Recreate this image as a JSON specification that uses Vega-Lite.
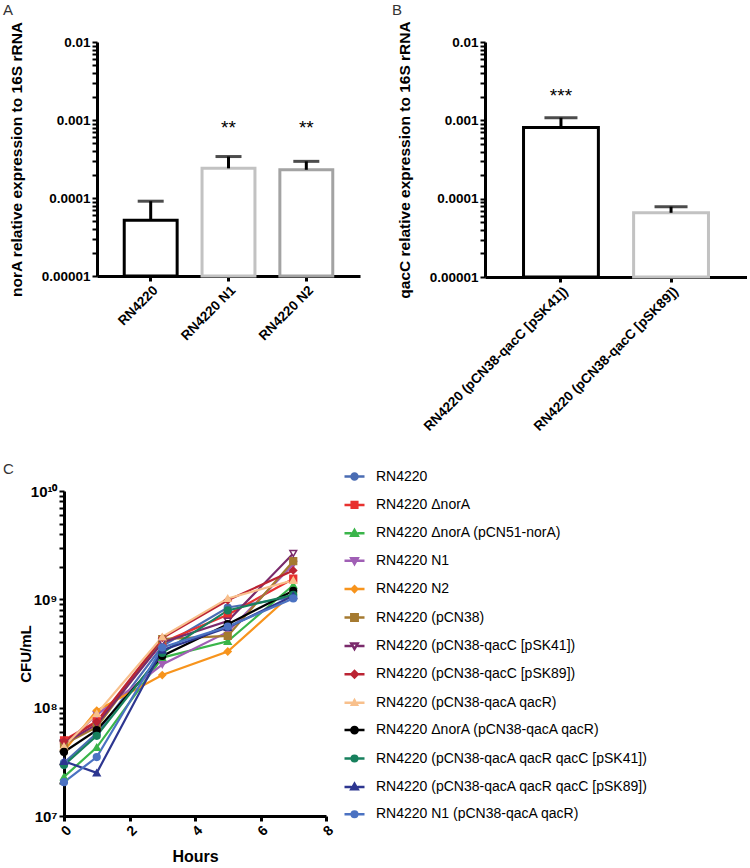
{
  "$schema": "https://vega.github.io/schema/vega-lite/v6.json",
  "padding": {"left": 3, "top": 2, "right": 0, "bottom": 0},
  "config": {
    "font": "Liberation Sans",
    "view": {"stroke": null},
    "axis": {"grid": false, "domainColor": "#000", "domainWidth": 3, "tickColor": "#000", "tickWidth": 2, "tickSize": 5, "labelColor": "#000", "labelFontWeight": "bold", "labelFont": "Liberation Sans", "titleFont": "Liberation Sans", "titleColor": "#000", "titleFontWeight": "bold", "labelPadding": 2},
    "title": {"font": "Liberation Sans", "fontWeight": "normal", "fontSize": 15, "color": "#333", "anchor": "start", "frame": "group"}
  },
  "columns": 1,
  "align": "none",
  "spacing": 28,
  "concat": [
    {
      "spacing": 32,
      "hconcat": [
        {
          "width": 263, "height": 234,
          "title": {"text": "A", "dx": -94, "offset": 3},
          "data": {"values": [
            {"strain": "RN4220", "value": 0.000052, "err": 0.000091, "sig": ""},
            {"strain": "RN4220 N1", "value": 0.00024, "err": 0.00034, "sig": "**"},
            {"strain": "RN4220 N2", "value": 0.00023, "err": 0.000295, "sig": "**"}
          ]},
          "layer": [
            {
              "mark": {"type": "bar", "fill": "white", "strokeWidth": 3},
              "encoding": {
                "x": {"field": "strain", "type": "nominal", "sort": null, "scale": {"paddingInner": 0.32, "paddingOuter": 0.35},
                      "axis": {"title": null, "labelAngle": -45, "labelFontSize": 13.5, "tickWidth": 3, "tickSize": 5}},
                "y": {"field": "value", "type": "quantitative", "scale": {"type": "log", "domain": [0.00001, 0.01]},
                      "axis": {"values": [0.00001,0.00002,0.00003,0.00004,0.00005,0.00006,0.00007,0.00008,0.00009,0.0001,0.0002,0.0003,0.0004,0.0005,0.0006,0.0007,0.0008,0.0009,0.001,0.002,0.003,0.004,0.005,0.006,0.007,0.008,0.009,0.01],
                               "labelExpr": "abs(log(datum.value)/LN10 - round(log(datum.value)/LN10)) < 0.001 ? format(datum.value, '~f') : ''",
                               "labelFontSize": 13.5, "title": "norA relative expression to 16S rRNA", "titleFontSize": 15.5, "titlePadding": 17}},
                "y2": {"datum": 0.00001},
                "stroke": {"field": "strain", "type": "nominal", "scale": {"domain": ["RN4220", "RN4220 N1", "RN4220 N2"], "range": ["#000000", "#c2c2c2", "#a3a3a3"]}, "legend": null}
              }
            },
            {
              "mark": {"type": "rule", "strokeWidth": 3, "color": "#000"},
              "encoding": {
                "x": {"field": "strain", "type": "nominal", "sort": null},
                "y": {"field": "value", "type": "quantitative"},
                "y2": {"field": "err"}
              }
            },
            {
              "mark": {"type": "tick", "thickness": 3, "size": 26, "color": "#000"},
              "encoding": {
                "x": {"field": "strain", "type": "nominal", "sort": null},
                "y": {"field": "err", "type": "quantitative"}
              }
            },
            {
              "mark": {"type": "text", "fontSize": 19, "baseline": "middle", "color": "#000"},
              "encoding": {
                "x": {"field": "strain", "type": "nominal", "sort": null},
                "y": {"datum": 0.0008},
                "text": {"field": "sig"}
              }
            }
          ]
        },
        {
          "width": 262, "height": 235,
          "title": {"text": "B", "dx": -93, "offset": 3},
          "data": {"values": [
            {"strain": "RN4220 (pCN38-qacC [pSK41])", "value": 0.00081, "err": 0.00108, "sig": "***"},
            {"strain": "RN4220 (pCN38-qacC [pSK89])", "value": 0.000066, "err": 0.000079, "sig": ""}
          ]},
          "layer": [
            {
              "mark": {"type": "bar", "fill": "white", "strokeWidth": 3},
              "encoding": {
                "x": {"field": "strain", "type": "nominal", "sort": null, "scale": {"paddingInner": 0.32, "paddingOuter": 0.35},
                      "axis": {"title": null, "labelAngle": -45, "labelFontSize": 13.5, "tickWidth": 3, "tickSize": 5, "labelLimit": 0}},
                "y": {"field": "value", "type": "quantitative", "scale": {"type": "log", "domain": [0.00001, 0.01]},
                      "axis": {"values": [0.00001,0.00002,0.00003,0.00004,0.00005,0.00006,0.00007,0.00008,0.00009,0.0001,0.0002,0.0003,0.0004,0.0005,0.0006,0.0007,0.0008,0.0009,0.001,0.002,0.003,0.004,0.005,0.006,0.007,0.008,0.009,0.01],
                               "labelExpr": "abs(log(datum.value)/LN10 - round(log(datum.value)/LN10)) < 0.001 ? format(datum.value, '~f') : ''",
                               "labelFontSize": 13.5, "title": "qacC relative expression to 16S rRNA", "titleFontSize": 15.5, "titlePadding": 17}},
                "y2": {"datum": 0.00001},
                "stroke": {"field": "strain", "type": "nominal", "scale": {"domain": ["RN4220 (pCN38-qacC [pSK41])", "RN4220 (pCN38-qacC [pSK89])"], "range": ["#000000", "#c2c2c2"]}, "legend": null}
              }
            },
            {
              "mark": {"type": "rule", "strokeWidth": 3, "color": "#000"},
              "encoding": {
                "x": {"field": "strain", "type": "nominal", "sort": null},
                "y": {"field": "value", "type": "quantitative"},
                "y2": {"field": "err"}
              }
            },
            {
              "mark": {"type": "tick", "thickness": 3, "size": 33, "color": "#000"},
              "encoding": {
                "x": {"field": "strain", "type": "nominal", "sort": null},
                "y": {"field": "err", "type": "quantitative"}
              }
            },
            {
              "mark": {"type": "text", "fontSize": 19, "baseline": "middle", "color": "#000"},
              "encoding": {
                "x": {"field": "strain", "type": "nominal", "sort": null},
                "y": {"datum": 0.00205},
                "text": {"field": "sig"}
              }
            }
          ]
        }
      ]
    },
    {
      "hconcat": [
        {
          "width": 229, "height": 325,
          "title": {"text": "C", "dx": -94, "offset": -12},
          "data": {"values": [
            {"strain": "RN4220", "hours": 0, "cfu": 31000000}, {"strain": "RN4220", "hours": 1, "cfu": 58000000}, {"strain": "RN4220", "hours": 3, "cfu": 370000000}, {"strain": "RN4220", "hours": 5, "cfu": 840000000}, {"strain": "RN4220", "hours": 7, "cfu": 1050000000},
            {"strain": "RN4220 ΔnorA", "hours": 0, "cfu": 50000000}, {"strain": "RN4220 ΔnorA", "hours": 1, "cfu": 75000000}, {"strain": "RN4220 ΔnorA", "hours": 3, "cfu": 400000000}, {"strain": "RN4220 ΔnorA", "hours": 5, "cfu": 720000000}, {"strain": "RN4220 ΔnorA", "hours": 7, "cfu": 1550000000},
            {"strain": "RN4220 ΔnorA (pCN51-norA)", "hours": 0, "cfu": 23000000}, {"strain": "RN4220 ΔnorA (pCN51-norA)", "hours": 1, "cfu": 43000000}, {"strain": "RN4220 ΔnorA (pCN51-norA)", "hours": 3, "cfu": 290000000}, {"strain": "RN4220 ΔnorA (pCN51-norA)", "hours": 5, "cfu": 410000000}, {"strain": "RN4220 ΔnorA (pCN51-norA)", "hours": 7, "cfu": 1350000000},
            {"strain": "RN4220 N1", "hours": 0, "cfu": 45000000}, {"strain": "RN4220 N1", "hours": 1, "cfu": 86000000}, {"strain": "RN4220 N1", "hours": 3, "cfu": 250000000}, {"strain": "RN4220 N1", "hours": 5, "cfu": 500000000}, {"strain": "RN4220 N1", "hours": 7, "cfu": 2100000000},
            {"strain": "RN4220 N2", "hours": 0, "cfu": 40000000}, {"strain": "RN4220 N2", "hours": 1, "cfu": 94000000}, {"strain": "RN4220 N2", "hours": 3, "cfu": 200000000}, {"strain": "RN4220 N2", "hours": 5, "cfu": 330000000}, {"strain": "RN4220 N2", "hours": 7, "cfu": 1150000000},
            {"strain": "RN4220 (pCN38)", "hours": 0, "cfu": 46000000}, {"strain": "RN4220 (pCN38)", "hours": 1, "cfu": 66000000}, {"strain": "RN4220 (pCN38)", "hours": 3, "cfu": 430000000}, {"strain": "RN4220 (pCN38)", "hours": 5, "cfu": 460000000}, {"strain": "RN4220 (pCN38)", "hours": 7, "cfu": 2250000000},
            {"strain": "RN4220 (pCN38-qacC [pSK41])", "hours": 0, "cfu": 47000000}, {"strain": "RN4220 (pCN38-qacC [pSK41])", "hours": 1, "cfu": 70000000}, {"strain": "RN4220 (pCN38-qacC [pSK41])", "hours": 3, "cfu": 400000000}, {"strain": "RN4220 (pCN38-qacC [pSK41])", "hours": 5, "cfu": 630000000}, {"strain": "RN4220 (pCN38-qacC [pSK41])", "hours": 7, "cfu": 2650000000},
            {"strain": "RN4220 (pCN38-qacC [pSK89])", "hours": 0, "cfu": 49000000}, {"strain": "RN4220 (pCN38-qacC [pSK89])", "hours": 1, "cfu": 74000000}, {"strain": "RN4220 (pCN38-qacC [pSK89])", "hours": 3, "cfu": 440000000}, {"strain": "RN4220 (pCN38-qacC [pSK89])", "hours": 5, "cfu": 980000000}, {"strain": "RN4220 (pCN38-qacC [pSK89])", "hours": 7, "cfu": 1850000000},
            {"strain": "RN4220 (pCN38-qacA qacR)", "hours": 0, "cfu": 44000000}, {"strain": "RN4220 (pCN38-qacA qacR)", "hours": 1, "cfu": 88000000}, {"strain": "RN4220 (pCN38-qacA qacR)", "hours": 3, "cfu": 450000000}, {"strain": "RN4220 (pCN38-qacA qacR)", "hours": 5, "cfu": 1020000000}, {"strain": "RN4220 (pCN38-qacA qacR)", "hours": 7, "cfu": 1500000000},
            {"strain": "RN4220 ΔnorA (pCN38-qacA qacR)", "hours": 0, "cfu": 39000000}, {"strain": "RN4220 ΔnorA (pCN38-qacA qacR)", "hours": 1, "cfu": 62000000}, {"strain": "RN4220 ΔnorA (pCN38-qacA qacR)", "hours": 3, "cfu": 300000000}, {"strain": "RN4220 ΔnorA (pCN38-qacA qacR)", "hours": 5, "cfu": 590000000}, {"strain": "RN4220 ΔnorA (pCN38-qacA qacR)", "hours": 7, "cfu": 1200000000},
            {"strain": "RN4220 (pCN38-qacA qacR qacC [pSK41])", "hours": 0, "cfu": 29500000}, {"strain": "RN4220 (pCN38-qacA qacR qacC [pSK41])", "hours": 1, "cfu": 55000000}, {"strain": "RN4220 (pCN38-qacA qacR qacC [pSK41])", "hours": 3, "cfu": 320000000}, {"strain": "RN4220 (pCN38-qacA qacR qacC [pSK41])", "hours": 5, "cfu": 790000000}, {"strain": "RN4220 (pCN38-qacA qacR qacC [pSK41])", "hours": 7, "cfu": 1100000000},
            {"strain": "RN4220 (pCN38-qacA qacR qacC [pSK89])", "hours": 0, "cfu": 32000000}, {"strain": "RN4220 (pCN38-qacA qacR qacC [pSK89])", "hours": 1, "cfu": 25000000}, {"strain": "RN4220 (pCN38-qacA qacR qacC [pSK89])", "hours": 3, "cfu": 340000000}, {"strain": "RN4220 (pCN38-qacA qacR qacC [pSK89])", "hours": 5, "cfu": 550000000}, {"strain": "RN4220 (pCN38-qacA qacR qacC [pSK89])", "hours": 7, "cfu": 1080000000},
            {"strain": "RN4220 N1 (pCN38-qacA qacR)", "hours": 0, "cfu": 20500000}, {"strain": "RN4220 N1 (pCN38-qacA qacR)", "hours": 1, "cfu": 35000000}, {"strain": "RN4220 N1 (pCN38-qacA qacR)", "hours": 3, "cfu": 360000000}, {"strain": "RN4220 N1 (pCN38-qacA qacR)", "hours": 5, "cfu": 560000000}, {"strain": "RN4220 N1 (pCN38-qacA qacR)", "hours": 7, "cfu": 1020000000}
          ]},
          "resolve": {"scale": {"shape": "independent", "fill": "independent", "stroke": "independent"}},
          "layer": [
            {
              "mark": {"type": "line", "strokeWidth": 2.2},
              "encoding": {
                "x": {"field": "hours", "type": "quantitative", "scale": {"domain": [0, 8], "nice": false, "range": [-33, 229]},
                      "axis": {"values": [0, 2, 4, 6, 8], "labelAngle": -45, "labelFontSize": 14, "title": "Hours", "titleFontSize": 16, "titlePadding": 10, "tickWidth": 3, "tickSize": 5}},
                "y": {"field": "cfu", "type": "quantitative", "scale": {"type": "log", "domain": [10000000, 10000000000]},
                      "axis": {"offset": 33, "values": [10000000,20000000,30000000,40000000,50000000,60000000,70000000,80000000,90000000,100000000,200000000,300000000,400000000,500000000,600000000,700000000,800000000,900000000,1000000000,2000000000,3000000000,4000000000,5000000000,6000000000,7000000000,8000000000,9000000000,10000000000],
                               "labelExpr": "datum.value == 10000000 ? '10⁷' : datum.value == 100000000 ? '10⁸' : datum.value == 1000000000 ? '10⁹' : datum.value == 10000000000 ? '10¹⁰' : ''",
                               "labelFontSize": 15, "title": "CFU/mL", "titleFontSize": 15, "titlePadding": -3}},
                "color": {"field": "strain", "type": "nominal", "sort": null, "legend": null,
                          "scale": {"domain": ["RN4220", "RN4220 ΔnorA", "RN4220 ΔnorA (pCN51-norA)", "RN4220 N1", "RN4220 N2", "RN4220 (pCN38)", "RN4220 (pCN38-qacC [pSK41])", "RN4220 (pCN38-qacC [pSK89])", "RN4220 (pCN38-qacA qacR)", "RN4220 ΔnorA (pCN38-qacA qacR)", "RN4220 (pCN38-qacA qacR qacC [pSK41])", "RN4220 (pCN38-qacA qacR qacC [pSK89])", "RN4220 N1 (pCN38-qacA qacR)"],
                                    "range": ["#4a6cb3", "#e8312f", "#3ab54a", "#a05fb5", "#f7941d", "#a57a30", "#7a2a6b", "#bb2433", "#f8c08c", "#000000", "#17805d", "#2d3690", "#4b72c2"]}}
              }
            },
            {
              "mark": {"type": "point", "filled": true, "size": 45, "strokeWidth": 1.5, "opacity": 1},
              "encoding": {
                "x": {"field": "hours", "type": "quantitative"},
                "y": {"field": "cfu", "type": "quantitative"},
                "fill": {"field": "strain", "type": "nominal", "legend": null,
                         "scale": {"domain": ["RN4220", "RN4220 ΔnorA", "RN4220 ΔnorA (pCN51-norA)", "RN4220 N1", "RN4220 N2", "RN4220 (pCN38)", "RN4220 (pCN38-qacC [pSK41])", "RN4220 (pCN38-qacC [pSK89])", "RN4220 (pCN38-qacA qacR)", "RN4220 ΔnorA (pCN38-qacA qacR)", "RN4220 (pCN38-qacA qacR qacC [pSK41])", "RN4220 (pCN38-qacA qacR qacC [pSK89])", "RN4220 N1 (pCN38-qacA qacR)"],
                                   "range": ["#4a6cb3", "#e8312f", "#3ab54a", "#a05fb5", "#f7941d", "#a57a30", "#ffffff", "#bb2433", "#f8c08c", "#000000", "#17805d", "#2d3690", "#4b72c2"]}},
                "stroke": {"field": "strain", "type": "nominal", "legend": null,
                           "scale": {"domain": ["RN4220", "RN4220 ΔnorA", "RN4220 ΔnorA (pCN51-norA)", "RN4220 N1", "RN4220 N2", "RN4220 (pCN38)", "RN4220 (pCN38-qacC [pSK41])", "RN4220 (pCN38-qacC [pSK89])", "RN4220 (pCN38-qacA qacR)", "RN4220 ΔnorA (pCN38-qacA qacR)", "RN4220 (pCN38-qacA qacR qacC [pSK41])", "RN4220 (pCN38-qacA qacR qacC [pSK89])", "RN4220 N1 (pCN38-qacA qacR)"],
                                     "range": ["#4a6cb3", "#e8312f", "#3ab54a", "#a05fb5", "#f7941d", "#a57a30", "#7a2a6b", "#bb2433", "#f8c08c", "#000000", "#17805d", "#2d3690", "#4b72c2"]}},
                "shape": {"field": "strain", "type": "nominal", "legend": null,
                          "scale": {"domain": ["RN4220", "RN4220 ΔnorA", "RN4220 ΔnorA (pCN51-norA)", "RN4220 N1", "RN4220 N2", "RN4220 (pCN38)", "RN4220 (pCN38-qacC [pSK41])", "RN4220 (pCN38-qacC [pSK89])", "RN4220 (pCN38-qacA qacR)", "RN4220 ΔnorA (pCN38-qacA qacR)", "RN4220 (pCN38-qacA qacR qacC [pSK41])", "RN4220 (pCN38-qacA qacR qacC [pSK89])", "RN4220 N1 (pCN38-qacA qacR)"],
                                    "range": ["circle", "square", "triangle-up", "triangle-down", "diamond", "square", "triangle-down", "diamond", "triangle-up", "circle", "circle", "triangle-up", "circle"]}}
              }
            },
            {
              "mark": {"type": "point", "filled": true, "opacity": 0},
              "encoding": {
                "x": {"field": "hours", "type": "quantitative"},
                "y": {"field": "cfu", "type": "quantitative"},
                "fill": {"field": "strain", "type": "nominal",
                         "legend": {"orient": "none", "legendX": 246, "legendY": -26, "title": null, "symbolSize": 400, "symbolStrokeWidth": 2.5, "symbolOpacity": 1, "labelFontSize": 14, "labelFont": "Liberation Sans", "labelColor": "#000", "rowPadding": 8.4, "labelOffset": 10, "labelLimit": 0, "encode": {"symbols": {"update": {"opacity": {"value": 1}}}}},
                         "scale": {"domain": ["RN4220", "RN4220 ΔnorA", "RN4220 ΔnorA (pCN51-norA)", "RN4220 N1", "RN4220 N2", "RN4220 (pCN38)", "RN4220 (pCN38-qacC [pSK41])", "RN4220 (pCN38-qacC [pSK89])", "RN4220 (pCN38-qacA qacR)", "RN4220 ΔnorA (pCN38-qacA qacR)", "RN4220 (pCN38-qacA qacR qacC [pSK41])", "RN4220 (pCN38-qacA qacR qacC [pSK89])", "RN4220 N1 (pCN38-qacA qacR)"],
                                   "range": ["#4a6cb3", "#e8312f", "#3ab54a", "#a05fb5", "#f7941d", "#a57a30", "#ffffff", "#bb2433", "#f8c08c", "#000000", "#17805d", "#2d3690", "#4b72c2"]}},
                "stroke": {"field": "strain", "type": "nominal",
                           "legend": {"orient": "none", "legendX": 246, "legendY": -26, "title": null, "symbolSize": 400, "symbolStrokeWidth": 2.5, "symbolOpacity": 1, "labelFontSize": 14, "labelFont": "Liberation Sans", "labelColor": "#000", "rowPadding": 8.4, "labelOffset": 10, "labelLimit": 0, "encode": {"symbols": {"update": {"opacity": {"value": 1}}}}},
                           "scale": {"domain": ["RN4220", "RN4220 ΔnorA", "RN4220 ΔnorA (pCN51-norA)", "RN4220 N1", "RN4220 N2", "RN4220 (pCN38)", "RN4220 (pCN38-qacC [pSK41])", "RN4220 (pCN38-qacC [pSK89])", "RN4220 (pCN38-qacA qacR)", "RN4220 ΔnorA (pCN38-qacA qacR)", "RN4220 (pCN38-qacA qacR qacC [pSK41])", "RN4220 (pCN38-qacA qacR qacC [pSK89])", "RN4220 N1 (pCN38-qacA qacR)"],
                                     "range": ["#4a6cb3", "#e8312f", "#3ab54a", "#a05fb5", "#f7941d", "#a57a30", "#7a2a6b", "#bb2433", "#f8c08c", "#000000", "#17805d", "#2d3690", "#4b72c2"]}},
                "shape": {"field": "strain", "type": "nominal",
                          "legend": {"orient": "none", "legendX": 246, "legendY": -26, "title": null, "symbolSize": 400, "symbolStrokeWidth": 2.5, "symbolOpacity": 1, "labelFontSize": 14, "labelFont": "Liberation Sans", "labelColor": "#000", "rowPadding": 8.4, "labelOffset": 10, "labelLimit": 0, "encode": {"symbols": {"update": {"opacity": {"value": 1}}}}},
                          "scale": {"domain": ["RN4220", "RN4220 ΔnorA", "RN4220 ΔnorA (pCN51-norA)", "RN4220 N1", "RN4220 N2", "RN4220 (pCN38)", "RN4220 (pCN38-qacC [pSK41])", "RN4220 (pCN38-qacC [pSK89])", "RN4220 (pCN38-qacA qacR)", "RN4220 ΔnorA (pCN38-qacA qacR)", "RN4220 (pCN38-qacA qacR qacC [pSK41])", "RN4220 (pCN38-qacA qacR qacC [pSK89])", "RN4220 N1 (pCN38-qacA qacR)"],
                                    "range": [
                                      "M-1,0H-0.3M0.3,0H1M-0.3,0A0.3,0.3 0 1,1 0.3,0A0.3,0.3 0 1,1 -0.3,0Z",
                                      "M-1,0H-0.28M0.28,0H1M-0.28,-0.28H0.28V0.28H-0.28Z",
                                      "M-1,0H-0.3M0.3,0H1M-0.32,0.24L0,-0.32L0.32,0.24Z",
                                      "M-1,0H-0.3M0.3,0H1M-0.32,-0.24L0.32,-0.24L0,0.32Z",
                                      "M-1,0H-0.28M0.28,0H1M-0.28,0L0,-0.28L0.28,0L0,0.28Z",
                                      "M-1,0H-0.32M0.32,0H1M-0.32,-0.32H0.32V0.32H-0.32Z",
                                      "M-1,0H-0.3M0.3,0H1M-0.32,-0.24L0.32,-0.24L0,0.32Z",
                                      "M-1,0H-0.32M0.32,0H1M-0.32,0L0,-0.32L0.32,0L0,0.32Z",
                                      "M-1,0H-0.25M0.25,0H1M-0.25,0.2L0,-0.25L0.25,0.2Z",
                                      "M-1,0H-0.32M0.32,0H1M-0.32,0A0.32,0.32 0 1,1 0.32,0A0.32,0.32 0 1,1 -0.32,0Z",
                                      "M-1,0H-0.28M0.28,0H1M-0.28,0A0.28,0.28 0 1,1 0.28,0A0.28,0.28 0 1,1 -0.28,0Z",
                                      "M-1,0H-0.3M0.3,0H1M-0.32,0.24L0,-0.32L0.32,0.24Z",
                                      "M-1,0H-0.28M0.28,0H1M-0.28,0A0.28,0.28 0 1,1 0.28,0A0.28,0.28 0 1,1 -0.28,0Z"
                                    ]}}
              }
            }
          ]
        }
      ]
    }
  ]
}
